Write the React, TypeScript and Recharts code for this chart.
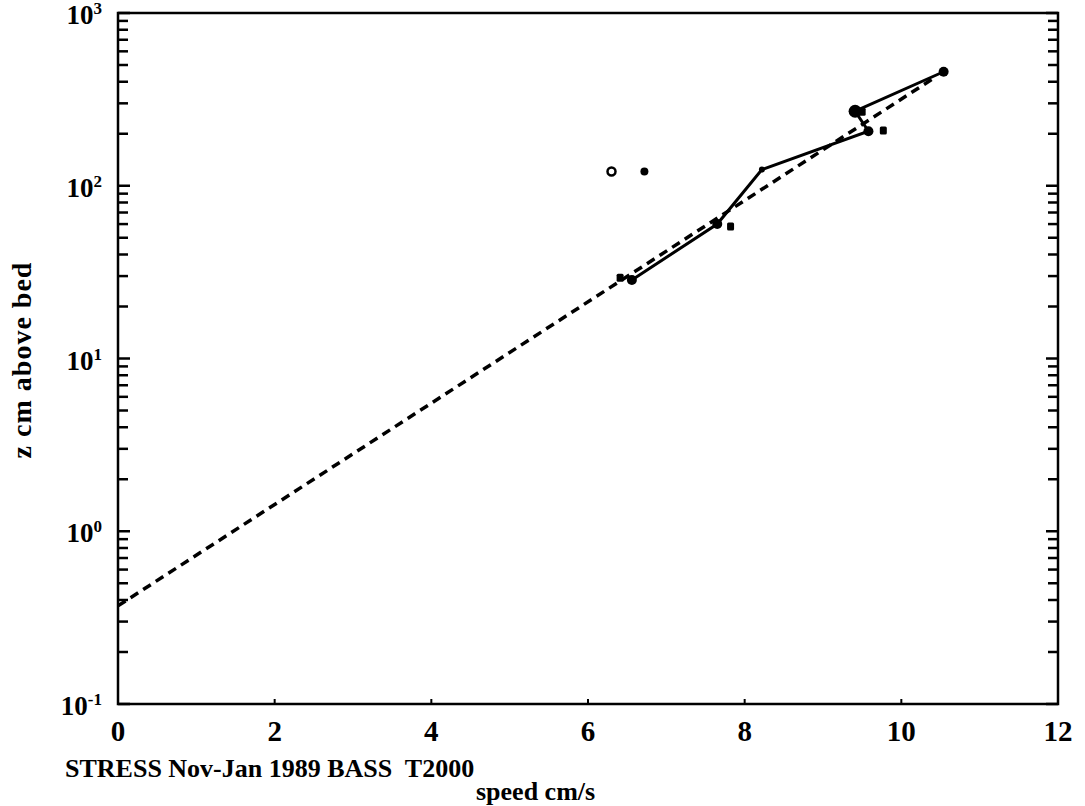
import React from 'react';
import { ScatterChart, Scatter, XAxis, YAxis, ReferenceArea } from 'recharts';

// speed (cm/s) vs height above bed (cm)
const profileSpeed = [6.56, 7.65, 8.22, 9.58, 9.41, 10.54];
const profileZ = [28.5, 60, 124, 207, 270, 457];
const altSpeed = [6.41, 7.82, 9.77, 9.5];
const altZ = [29.3, 58, 209, 268];
const openSpeed = [6.3];
const openZ = [121];
const dotSpeed = [6.72];
const dotZ = [121];
const fitSpeed = [0, 10.45];
const fitZ = [0.37, 430];

const xTicks = [0, 2, 4, 6, 8, 10, 12];
const yMajor = [0.1, 1, 10, 100, 1000];
const yTicks: number[] = [];
yMajor.slice(0, 4).forEach((m) => {
  for (let k = 1; k <= 9; k++) yTicks.push(+(m * k).toPrecision(3));
});
yTicks.push(1000);

const zip = (xs: number[], zs: number[]) => xs.map((x, i) => ({ x, z: zs[i] }));
const profileData = zip(profileSpeed, profileZ);
const altData = zip(altSpeed, altZ);
const openData = zip(openSpeed, openZ);
const dotData = zip(dotSpeed, dotZ);
const fitData = zip(fitSpeed, fitZ);

const FONT = '"Liberation Serif", "Times New Roman", serif';

const isMajor = (v: number) => {
  const l = Math.log10(v);
  return Math.abs(l - Math.round(l)) < 1e-6;
};

const LeftTick = (props: any) => {
  const { x, y, payload } = props;
  const v = payload.value;
  const major = isMajor(v);
  const exp = Math.round(Math.log10(v));
  return (
    <g>
      <line x1={x} y1={y} x2={x + (major ? 12 : 10)} y2={y} stroke="#000" strokeWidth={2.5} />
      {major && (
        <text x={x - 16} y={y + 11} textAnchor="end" fontFamily={FONT} fontWeight="bold" fontSize={27} fill="#000">
          10
          <tspan dy={-10} fontSize={17}>{exp}</tspan>
        </text>
      )}
    </g>
  );
};

const RightTick = (props: any) => {
  const { x, y, payload } = props;
  const major = isMajor(payload.value);
  return <line x1={x} y1={y} x2={x - (major ? 12 : 10)} y2={y} stroke="#000" strokeWidth={2.5} />;
};

const BottomTick = (props: any) => {
  const { x, y, payload } = props;
  return (
    <g>
      <line x1={x} y1={y} x2={x} y2={y - 5} stroke="#000" strokeWidth={2} />
      <text x={x} y={y + 37} textAnchor="middle" fontFamily={FONT} fontWeight="bold" fontSize={29} fill="#000">
        {payload.value}
      </text>
    </g>
  );
};

const Dot = (r: number) => (p: any) => <circle cx={p.cx} cy={p.cy} r={r} fill="#000" />;
const ProfileShape = (p: any) => {
  const r = p.payload.z === 124 ? 3 : p.payload.z === 270 ? 6.5 : 5;
  return <circle cx={p.cx} cy={p.cy} r={r} fill="#000" />;
};
const AltShape = (p: any) => <rect x={p.cx - 3.5} y={p.cy - 4} width={7} height={8} rx={1.5} fill="#000" />;
const OpenShape = (p: any) => <circle cx={p.cx} cy={p.cy} r={4} fill="#fff" stroke="#000" strokeWidth={2.5} />;
const NoShape = () => <g />;

export default function App() {
  return (
    <div style={{ position: 'absolute', left: 0, top: 0, width: 1085, height: 806, background: '#fff', overflow: 'hidden' }}>
      <ScatterChart width={1085} height={806} margin={{ top: 13, right: 0, bottom: 0, left: 0 }}>
        <XAxis
          type="number"
          dataKey="x"
          domain={[0, 12]}
          ticks={xTicks}
          height={102}
          axisLine={false}
          tickLine={false}
          tickSize={0}
          tickMargin={0}
          tick={<BottomTick />}
          interval={0}
          allowDataOverflow
        />
        <YAxis
          yAxisId="left"
          type="number"
          dataKey="z"
          scale="log"
          domain={[0.1, 1000]}
          ticks={yTicks}
          width={118}
          axisLine={false}
          tickLine={false}
          tickSize={0}
          tickMargin={0}
          tick={<LeftTick />}
          interval={0}
          allowDataOverflow
        />
        <YAxis
          yAxisId="right"
          orientation="right"
          type="number"
          dataKey="z"
          scale="log"
          domain={[0.1, 1000]}
          ticks={yTicks}
          width={27}
          axisLine={false}
          tickLine={false}
          tickSize={0}
          tickMargin={0}
          tick={<RightTick />}
          interval={0}
          allowDataOverflow
        />
        <ReferenceArea yAxisId="left" x1={0} x2={12} y1={0.1} y2={1000} fill="none" stroke="#000" strokeWidth={2.5} />
        <Scatter
          yAxisId="left"
          data={fitData}
          line={{ stroke: '#000', strokeWidth: 3.5, strokeDasharray: '9 6' }}
          shape={NoShape}
          isAnimationActive={false}
        />
        <Scatter
          yAxisId="left"
          data={profileData}
          line={{ stroke: '#000', strokeWidth: 3 }}
          shape={ProfileShape}
          isAnimationActive={false}
        />
        <Scatter yAxisId="left" data={altData} shape={AltShape} isAnimationActive={false} />
        <Scatter yAxisId="left" data={openData} shape={OpenShape} isAnimationActive={false} />
        <Scatter yAxisId="left" data={dotData} shape={Dot(4)} isAnimationActive={false} />
      </ScatterChart>
      <svg width={1085} height={806} style={{ position: 'absolute', left: 0, top: 0, pointerEvents: 'none' }}>
        <text
          transform="translate(31, 360) rotate(-90)"
          textAnchor="middle"
          fontFamily={FONT}
          fontWeight="bold"
          fontSize={28}
          letterSpacing={1}
          fill="#000"
        >
          z cm above bed
        </text>
        <text x={65} y={777} fontFamily={FONT} fontWeight="bold" fontSize={26} fill="#000" xmlSpace="preserve">
          STRESS Nov-Jan 1989 BASS  T2000
        </text>
        <text x={476} y={800} fontFamily={FONT} fontWeight="bold" fontSize={26} fill="#000">
          speed cm/s
        </text>
      </svg>
    </div>
  );
}
